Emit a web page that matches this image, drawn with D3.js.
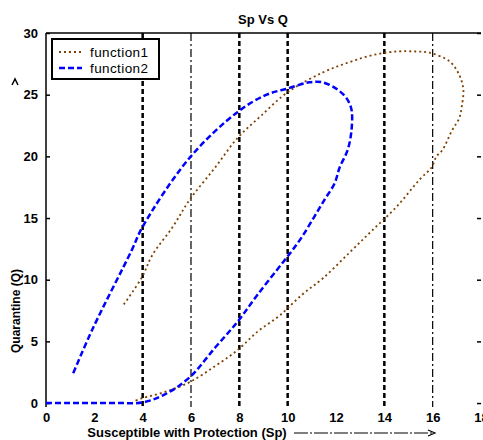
<!DOCTYPE html>
<html><head><meta charset="utf-8">
<script src="https://cdn.jsdelivr.net/npm/d3@7"></script>
<style>
body{margin:0;background:#fff;}
svg{display:block;font-family:"Liberation Sans",Arial,sans-serif;}
</style></head>
<body><svg id="c" width="483" height="440"></svg>
<script>
const xTicks = [0,2,4,6,8,10,12,14,16,18];
const yTicks = [0,5,10,15,20,25,30];
const vLines = [4,6,8,10,14,16];
const vThick = [true,false,true,true,true,false];
const seriesNames = ["function1","function2"];

const f1Sp = [3.22,3.97,4.4,5.25,5.95,7.0,7.93,8.85,10.0,11.45,12.5,13.5,14.5,15.3,15.87,16.7,17.1,17.27,17.2,17.1,16.8,16.4,16.16,15.95,15.45,14.5,13.5,12.56,11.45,10.6,9.67,8.76,7.93,7.0,5.95,4.92,4.0,3.7];
const f1Q  = [8.0,10.2,12.0,14.3,16.5,19.1,21.5,23.2,25.2,26.8,27.6,28.2,28.5,28.5,28.4,27.7,26.6,25.4,24.0,23.1,22.1,20.5,20.0,19.1,18.1,15.9,14.0,12.2,10.1,8.8,7.1,5.8,4.3,3.0,1.7,0.9,0.4,0.2];

const f2Sp = [0,1,2,3,4.0,4.92,5.95,7.0,7.93,8.76,9.8,10.2,10.6,11.1,11.53,11.94,12.15,12.48,12.64,12.64,12.44,12.07,11.45,10.9,10.0,9.13,7.93,5.95,4.0,3.55,1.95,1.12];
const f2Q  = [0,0,0,0,0.05,0.7,2.1,4.5,6.6,8.8,11.4,12.4,13.5,15.1,16.5,17.8,19.1,20.5,22.1,23.8,24.7,25.4,26.0,26.0,25.5,25.0,23.6,19.9,14.3,12.4,6.1,2.4];

const svg = d3.select("#c");
const L=46, R=481, T=33, B=407;
const x = d3.scaleLinear().domain([0,18]).range([L,R]);
const y = d3.scaleLinear().domain([-0.32,30]).range([B,T]);

svg.append("defs").append("clipPath").attr("id","clip")
  .append("rect").attr("x",L).attr("y",T).attr("width",R-L).attr("height",B-T);

// vertical reference lines
vLines.forEach((v,i)=>{
  svg.append("line").attr("x1",x(v)).attr("x2",x(v)).attr("y1",T).attr("y2",B)
    .attr("stroke","#000")
    .attr("stroke-width",vThick[i]?2.5:1.2)
    .attr("stroke-dasharray",vThick[i]?"5,3":"8,3,2,3");
});

// axes frame: left and top
svg.append("line").attr("x1",L).attr("x2",L).attr("y1",T).attr("y2",B).attr("stroke","#000").attr("stroke-width",1.5);
svg.append("line").attr("x1",L).attr("x2",R).attr("y1",T).attr("y2",T).attr("stroke","#000").attr("stroke-width",1.5);

// y axis (ticks inward)
const yAxis = d3.axisLeft(y).tickValues(yTicks).tickSize(-4).tickPadding(8).tickFormat(d3.format("d"));
const ga = svg.append("g").attr("transform",`translate(${L},0)`).call(yAxis);
ga.select(".domain").remove();
ga.selectAll("text").attr("font-size",13).attr("font-weight","bold").attr("font-family","Liberation Sans, Arial, sans-serif").attr("fill","#000");
ga.selectAll("line").attr("stroke-width",1.5);
const gr = svg.append("g").attr("transform",`translate(${R},0)`).call(d3.axisRight(y).tickValues(yTicks).tickSize(-4).tickFormat(""));
gr.select(".domain").remove();
gr.selectAll("line").attr("stroke-width",1.5);

// x axis labels
const xAxis = d3.axisBottom(x).tickValues(xTicks).tickSize(0).tickPadding(6).tickFormat(d3.format("d"));
const gx = svg.append("g").attr("transform",`translate(0,${B})`).call(xAxis);
gx.select(".domain").remove();
gx.selectAll("text").attr("font-size",13).attr("font-weight","bold").attr("font-family","Liberation Sans, Arial, sans-serif").attr("fill","#000");

// series
const line = d3.line().x(d=>x(d[0])).y(d=>y(d[1])).curve(d3.curveCatmullRom.alpha(0.5));
const s1 = f1Sp.map((v,i)=>[v,f1Q[i]]);
const s2 = f2Sp.map((v,i)=>[v,f2Q[i]]);
const gp = svg.append("g").attr("clip-path","url(#clip)");
gp.append("path").attr("d",line(s1)).attr("fill","none").attr("stroke","#804000").attr("stroke-width",1.8).attr("stroke-dasharray","2,3");
gp.append("path").attr("d",line(s2)).attr("fill","none").attr("stroke","#0000ff").attr("stroke-width",2.5).attr("stroke-dasharray","6,3");

// legend
const lg = svg.append("g");
lg.append("rect").attr("x",52).attr("y",39).attr("width",107).attr("height",40).attr("fill","#fff").attr("stroke","#000").attr("stroke-width",2);
const lc = ["#804000","#0000ff"], lw=[1.8,2.5], ld=["2,3","6,3"];
seriesNames.forEach((n,i)=>{
  const yy = 52 + i*16;
  lg.append("line").attr("x1",59).attr("x2",82).attr("y1",yy).attr("y2",yy).attr("stroke",lc[i]).attr("stroke-width",lw[i]).attr("stroke-dasharray",ld[i]);
  lg.append("text").attr("x",90).attr("y",yy+5).attr("font-size",13.5).attr("letter-spacing",0.4).text(n);
});

// title
svg.append("text").attr("x",263).attr("y",24).attr("text-anchor","middle").attr("font-size",13).attr("font-weight","bold").text("Sp Vs Q");

// x label + arrow
svg.append("text").attr("x",187).attr("y",437).attr("text-anchor","middle").attr("font-size",13).attr("font-weight","bold").text("Susceptible with Protection (Sp)");
svg.append("line").attr("x1",294).attr("x2",434).attr("y1",433).attr("y2",433).attr("stroke","#000").attr("stroke-width",1.2).attr("stroke-dasharray","14,2,2,2");
svg.append("path").attr("d","M428,430 L435,433 L428,436").attr("fill","none").attr("stroke","#000").attr("stroke-width",1.2);

// y label
svg.append("text").attr("transform","translate(20,311) rotate(-90)").attr("text-anchor","middle").attr("font-size",12).attr("font-weight","bold").text("Quarantine (Q)");
svg.append("path").attr("d","M12,85 L15,79 L18,85").attr("fill","none").attr("stroke","#000").attr("stroke-width",1.5);
</script></body></html>
